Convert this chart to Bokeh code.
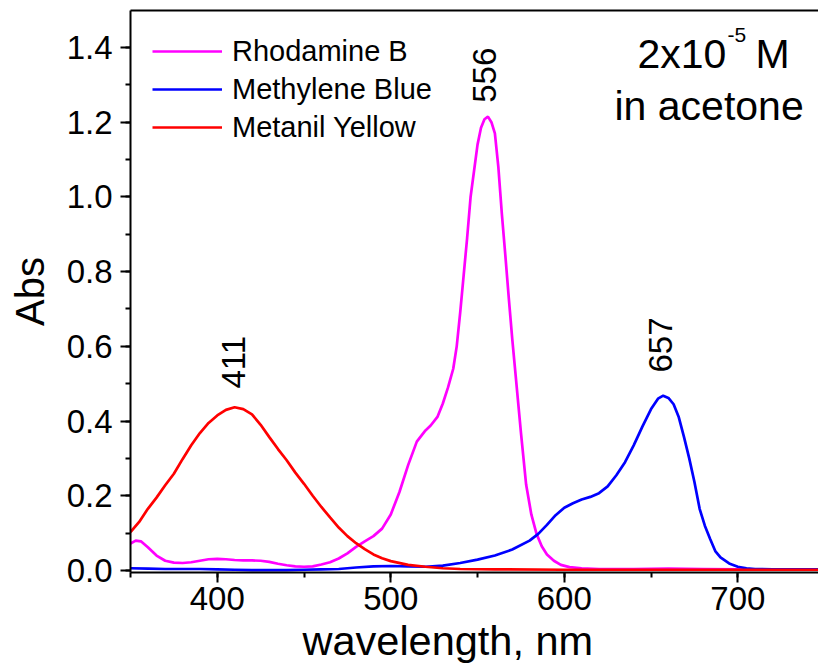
import numpy as np
from math import pi
from bokeh.plotting import figure
from bokeh.models import (Range1d, SingleIntervalTicker, LinearAxis, FixedTicker, Title,
                          Label, Legend, LegendItem, ColumnDataSource, NumeralTickFormatter)
from bokeh.core.properties import value
from bokeh.embed import file_html
from bokeh.resources import INLINE

FONT = "Liberation Sans"

# ---------------- data ----------------
rb_wl = [350, 353, 356, 360, 365, 370, 375, 380, 385, 390, 395, 400, 405, 410, 415, 420,
         425, 430, 435, 440, 445, 450, 455, 460, 465, 470, 475, 480, 485, 490, 495, 500,
         505, 510, 515, 520, 523, 527, 530, 533, 536, 538, 540, 542, 544, 546, 548, 550,
         552, 554, 556, 558, 560, 562, 564, 566, 568, 570, 572, 575, 578, 581, 584, 587,
         590, 594, 598, 603, 610, 620, 640, 660, 680, 700, 720, 750]
rb_abs = [0.072, 0.080, 0.078, 0.062, 0.040, 0.026, 0.021, 0.020, 0.022, 0.026, 0.030, 0.031,
          0.030, 0.028, 0.027, 0.027, 0.026, 0.023, 0.018, 0.014, 0.011, 0.010, 0.011, 0.016,
          0.022, 0.032, 0.046, 0.063, 0.078, 0.092, 0.112, 0.150, 0.210, 0.282, 0.345, 0.375,
          0.388, 0.412, 0.447, 0.490, 0.540, 0.600, 0.690, 0.790, 0.890, 1.000, 1.070, 1.140,
          1.185, 1.208, 1.215, 1.200, 1.170, 1.080, 0.955, 0.845, 0.730, 0.620, 0.520, 0.370,
          0.230, 0.150, 0.098, 0.065, 0.043, 0.026, 0.015, 0.009, 0.006, 0.004, 0.004, 0.005,
          0.004, 0.003, 0.003, 0.003]

mb_wl = [350, 360, 370, 380, 390, 400, 410, 420, 430, 440, 450, 460, 470, 480, 490, 500,
         510, 520, 530, 540, 550, 560, 570, 580, 585, 590, 595, 600, 605, 610, 615, 620,
         625, 630, 635, 640, 645, 650, 654, 657, 660, 663, 666, 669, 672, 675, 678, 681,
         684, 687, 690, 695, 700, 705, 710, 720, 750]
mb_abs = [0.006, 0.005, 0.004, 0.004, 0.004, 0.003, 0.002, 0.001, 0.001, 0.001, 0.002, 0.003,
          0.004, 0.008, 0.011, 0.012, 0.011, 0.010, 0.013, 0.020, 0.029, 0.040, 0.056, 0.080,
          0.098, 0.122, 0.148, 0.168, 0.180, 0.190, 0.197, 0.207, 0.225, 0.255, 0.290, 0.335,
          0.385, 0.432, 0.460, 0.468, 0.462, 0.445, 0.410, 0.357, 0.300, 0.237, 0.165, 0.120,
          0.085, 0.052, 0.035, 0.019, 0.010, 0.006, 0.004, 0.003, 0.003]

my_wl = [350, 355, 360, 365, 370, 375, 380, 385, 390, 395, 400, 405, 410, 415, 420, 425,
         430, 435, 440, 445, 450, 455, 460, 465, 470, 475, 480, 485, 490, 495, 500, 510,
         520, 530, 540, 560, 600, 650, 700, 750]
my_abs = [0.103, 0.130, 0.165, 0.195, 0.228, 0.259, 0.298, 0.335, 0.368, 0.395, 0.415, 0.430,
          0.437, 0.432, 0.418, 0.390, 0.357, 0.325, 0.295, 0.262, 0.232, 0.200, 0.170, 0.142,
          0.115, 0.092, 0.073, 0.057, 0.043, 0.033, 0.025, 0.015, 0.010, 0.006, 0.004, 0.003,
          0.002, 0.002, 0.002, 0.002]

series_names = ["Rhodamine B", "Methylene Blue", "Metanil Yellow"]
series_colors = ["#FF00FF", "#0000FF", "#FF0000"]

peak_wl = [411, 556, 657]
peak_label_y = [0.487, 1.252, 0.53]
peak_text = ["411", "556", "657"]

x_ticks_interval = 100
y_ticks_interval = 0.2

# ---------------- figure ----------------
p = figure(width=818, height=670, x_range=Range1d(350, 746.5), y_range=Range1d(-0.0054, 1.499),
           output_backend="svg", toolbar_location=None,
           min_border_left=130, min_border_right=0, min_border_top=10, min_border_bottom=98)
p.grid.visible = False
p.outline_line_color = None
p.background_fill_color = "white"
p.border_fill_color = "white"

for ax in (p.xaxis[0], p.yaxis[0]):
    ax.axis_line_width = 2
    ax.major_tick_line_width = 2
    ax.minor_tick_line_width = 2
    ax.major_tick_in = 0
    ax.major_tick_out = 10
    ax.minor_tick_in = 0
    ax.minor_tick_out = 5
    ax.major_label_text_font = FONT
    ax.major_label_text_font_size = "33px"
    ax.major_label_text_color = "black"
    ax.axis_label_text_font = FONT
    ax.axis_label_text_font_style = "normal"
    ax.axis_label_text_font_size = "40px"
    ax.axis_label_text_color = "black"

p.xaxis[0].ticker = SingleIntervalTicker(interval=x_ticks_interval, num_minor_ticks=2)
p.yaxis[0].ticker = SingleIntervalTicker(interval=y_ticks_interval, num_minor_ticks=2)
p.yaxis[0].formatter = NumeralTickFormatter(format="0.0")
p.xaxis[0].major_label_standoff = 4
p.yaxis[0].major_label_standoff = 8
p.yaxis[0].axis_label = "Abs"
p.yaxis[0].axis_label_standoff = 12

top = LinearAxis(ticker=FixedTicker(ticks=[]), axis_line_width=2,
                 major_tick_out=0, minor_tick_out=0, major_label_text_font_size="0px")
p.add_layout(top, "above")

xlabel = Title(text="wavelength, nm", align="left", offset=172, standoff=4,
               text_font=FONT, text_font_size="41.5px", text_font_style="normal",
               text_color="black")
p.add_layout(xlabel, "below")

renderers = []
for wl, ab, c in zip([rb_wl, mb_wl, my_wl], [rb_abs, mb_abs, my_abs], series_colors):
    r = p.line(wl, ab, line_color=c, line_width=2.7)
    renderers.append(r)

legend = Legend(items=[LegendItem(label=n, renderers=[r]) for n, r in zip(series_names, renderers)],
                location=(22, 428), padding=0, margin=0, border_line_color=None,
                background_fill_alpha=0, glyph_width=70, glyph_height=34, label_height=34,
                spacing=4, label_standoff=10, label_text_font=FONT, label_text_font_size="29px",
                label_text_color="black")
p.add_layout(legend)

src = ColumnDataSource(dict(x=peak_wl, y=peak_label_y, t=peak_text))
p.text(x="x", y="y", text="t", source=src, angle=pi / 2, text_align="left",
       text_baseline="middle", text_font=value(FONT), text_font_size="33px",
       text_color="black", x_offset=-3)

def lab(text, x, y, size):
    p.add_layout(Label(x=x, y=y, x_units="screen", y_units="screen", text=text,
                       text_font=FONT, text_font_size=size, text_color="black",
                       text_align="left", text_baseline="middle"))

lab("2x10", 507, 519, "41px")
lab("-5", 597, 537.5, "21px")
lab("M", 625, 519, "41px")
lab("in acetone", 484, 467, "41px")

open("out.html", "w").write(file_html(p, INLINE))
